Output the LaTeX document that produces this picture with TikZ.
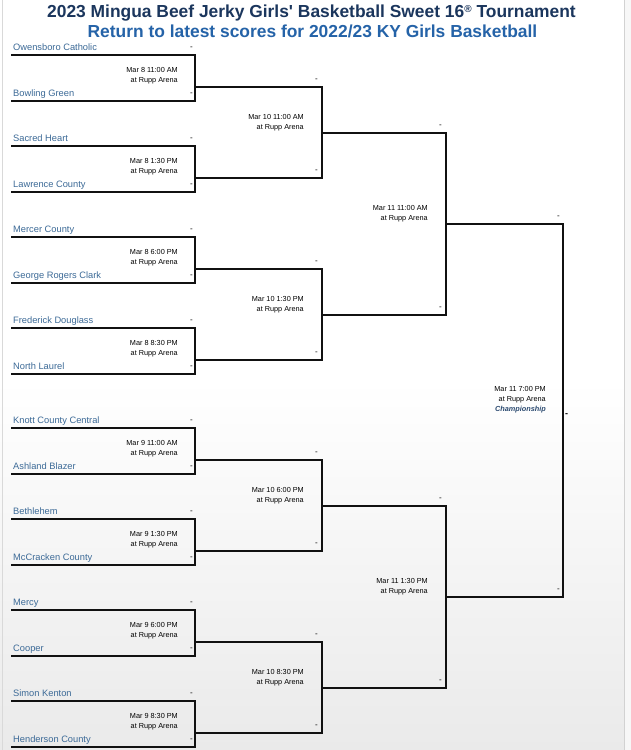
\documentclass[tikz,border=0pt]{standalone}
\usepackage{fontspec}
\setmainfont{Liberation Sans}
\usetikzlibrary{calc}
\definecolor{titlecol}{HTML}{1B365D}
\definecolor{linkcol}{HTML}{2563A8}
\definecolor{teamcol}{HTML}{3C6A97}
\definecolor{champcol}{HTML}{2B4A70}
\definecolor{bglow}{HTML}{EAEAEA}
\definecolor{linecol}{HTML}{111111}
\begin{document}
\begin{tikzpicture}[x=1pt,y=-1pt,
  bracket/.style={draw=linecol, line width=2pt, line join=miter},
  team/.style={text=teamcol, font=\fontsize{9.3}{10}\selectfont, anchor=base west, inner sep=0pt},
  score/.style={font=\fontsize{8}{9}\selectfont, anchor=base east, inner sep=0pt},
  info/.style={font=\fontsize{7.3}{10}\selectfont, anchor=base east, inner sep=0pt, align=right},
  titlestyle/.style={font=\fontsize{17.4}{20}\selectfont\bfseries, anchor=base, inner sep=0pt},
]
\useasboundingbox (0,0) rectangle (631,750);
\fill[white] (0,0) rectangle (631,750);
\shade[top color=white, bottom color=bglow] (0,380) rectangle (631,750);
\fill[gray!6] (624,0) rectangle (631,750);
\draw[gray!35, line width=0.8pt] (624,0) -- (624,750);
\draw[gray!30, line width=0.8pt] (2.5,0) -- (2.5,750);

\node[titlestyle, text=titlecol] (title) at (311.5,17.7) {2023 Mingua Beef Jerky Girls\textquotesingle{} Basketball Sweet 16{\fontsize{10}{10}\selectfont\raisebox{5pt}{®}} Tournament};
\node[titlestyle, text=linkcol] (link) at (312.5,37.7) {Return to latest scores for 2022/23 KY Girls Basketball};

% Round 1
\foreach \g/\top/\ta/\tb/\d in {
  1/55/Owensboro Catholic/Bowling Green/Mar 8 11:00 AM,
  2/146/Sacred Heart/Lawrence County/Mar 8 1:30 PM,
  3/237/Mercer County/George Rogers Clark/Mar 8 6:00 PM,
  4/328/Frederick Douglass/North Laurel/Mar 8 8:30 PM,
  5/428/Knott County Central/Ashland Blazer/Mar 9 11:00 AM,
  6/519/Bethlehem/McCracken County/Mar 9 1:30 PM,
  7/610/Mercy/Cooper/Mar 9 6:00 PM,
  8/701/Simon Kenton/Henderson County/Mar 9 8:30 PM}{
  \pgfmathsetmacro\bot{\top+46}
  \pgfmathsetmacro\att{\top+32}
  \coordinate (a\g) at (11,\top);
  \coordinate (b\g) at (195,\top);
  \coordinate (c\g) at (195,\bot);
  \coordinate (d\g) at (11,\bot);
  \coordinate (e\g) at (195,\att);
  \draw[bracket] (a\g) -- (b\g) -- (c\g) -- (d\g);
  \node[team] (ta\g) at (13,\top-4.8) {\ta};
  \node[team] (tb\g) at (13,\bot-4.8) {\tb};
  \node[score] (sa\g) at (193,\top-5.5) {-};
  \node[score] (sb\g) at (193,\bot-5.5) {-};
  \node[info] (i\g) at (178,\top+27.6) {\d\\at Rupp Arena};
}

% Round 2
\foreach \m/\ya/\yb/\d in {
  1/87/178/Mar 10 11:00 AM,
  2/269/360/Mar 10 1:30 PM,
  3/460/551/Mar 10 6:00 PM,
  4/642/733/Mar 10 8:30 PM}{
  \pgfmathtruncatemacro\p{2*\m-1}
  \pgfmathtruncatemacro\q{2*\m}
  \pgfmathsetmacro\mid{(\ya+\yb)/2}
  \coordinate (ft\m) at (322,\ya);
  \coordinate (fb\m) at (322,\yb);
  \coordinate (g\m) at (322,\mid);
  \draw[bracket] (e\p) -- (ft\m) -- (fb\m) -- (e\q);
  \node[score] (sc\m) at (318,\ya-5.5) {-};
  \node[score] (sd\m) at (318,\yb-5.5) {-};
  \node[info] (j\m) at (304,\mid-3.4) {\d\\at Rupp Arena};
}

% Round 3
\foreach \k/\ya/\yb/\d in {
  1/132.5/314.5/Mar 11 11:00 AM,
  2/505.5/687.5/Mar 11 1:30 PM}{
  \pgfmathtruncatemacro\p{2*\k-1}
  \pgfmathtruncatemacro\q{2*\k}
  \pgfmathsetmacro\mid{(\ya+\yb)/2}
  \coordinate (ht\k) at (446,\ya);
  \coordinate (hb\k) at (446,\yb);
  \coordinate (h\k) at (446,\mid);
  \draw[bracket] (g\p) -- (ht\k) -- (hb\k) -- (g\q);
  \node[score] (se\k) at (442,\ya-5.5) {-};
  \node[score] (sf\k) at (442,\yb-5.5) {-};
  \node[info] (k\k) at (428,\mid-3.4) {\d\\at Rupp Arena};
}

% Final
\coordinate (ct) at (563,223.5);
\coordinate (cb) at (563,596.5);
\draw[bracket] (h1) -- (ct) -- (cb) -- (h2);
\node[score] (sg) at (560,223.5-5.5) {-};
\node[score] (sh) at (560,596.5-5.5) {-};
\node[info] (fin) at (546,411.6) {Mar 11 7:00 PM\\at Rupp Arena\\{\color{champcol}\bfseries\itshape Championship}};
\node[font=\fontsize{9}{10}\selectfont\bfseries, anchor=base west, inner sep=0pt] (champ) at (565,416.5) {-};
\end{tikzpicture}
\end{document}
